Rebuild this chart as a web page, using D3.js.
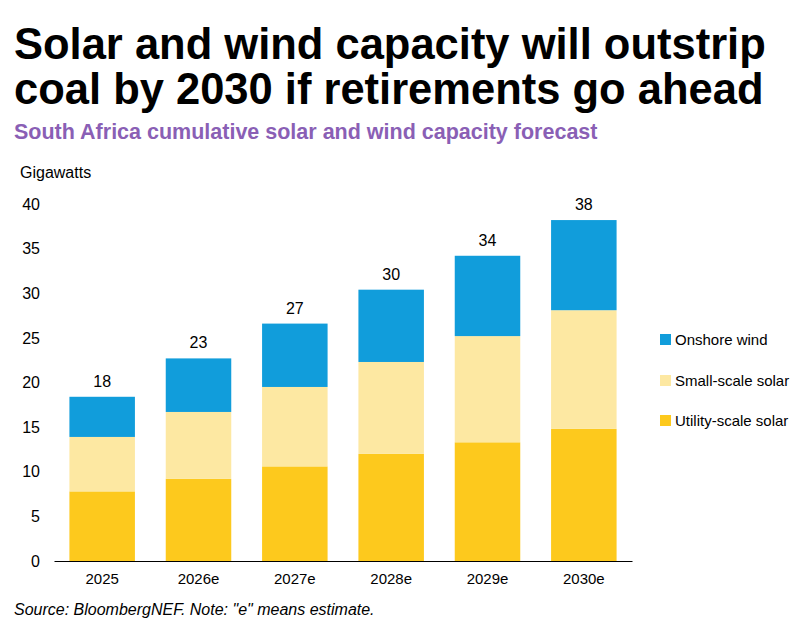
<!DOCTYPE html>
<html><head><meta charset="utf-8">
<script src="https://cdn.jsdelivr.net/npm/d3@7"></script>
<style>body{margin:0;background:#fff;font-family:Arial,"Liberation Sans",sans-serif}</style>
</head><body><div id="chart"></div>
<script>
// values in gigawatts
var years = ["2025", "2026e", "2027e", "2028e", "2029e", "2030e"];
var utility = [7.8, 9.2, 10.6, 12.0, 13.3, 14.8];
var small = [6.1, 7.5, 8.9, 10.3, 11.9, 13.3];
var wind = [4.5, 6.0, 7.1, 8.1, 9.0, 10.1];
var totals = ["18", "23", "27", "30", "34", "38"];
var seriesNames = ["Utility-scale solar", "Small-scale solar", "Onshore wind"];
var colors = ["#fdc91d", "#fde8a2", "#119ddb"];

var svg = d3.select("#chart").append("svg").attr("width", 810).attr("height", 625);

svg.append("text").attr("x", 14).attr("y", 59).attr("font-size", 43.5).attr("font-weight", "bold")
  .text("Solar and wind capacity will outstrip");
svg.append("text").attr("x", 14).attr("y", 104).attr("font-size", 43.5).attr("font-weight", "bold")
  .text("coal by 2030 if retirements go ahead");
svg.append("text").attr("x", 14).attr("y", 139).attr("font-size", 21.5).attr("font-weight", "bold")
  .attr("fill", "#8a5fb5").text("South Africa cumulative solar and wind capacity forecast");
svg.append("text").attr("x", 20).attr("y", 178).attr("font-size", 16).text("Gigawatts");

var x = d3.scaleBand().domain(years).range([54, 632]).paddingInner(0.32).paddingOuter(0.16);
var y = d3.scaleLinear().domain([0, 40]).range([561, 204]);

var stackData = years.map(function (d, i) { return {year: d, s0: utility[i], s1: small[i], s2: wind[i]}; });
var stack = d3.stack().keys(["s0", "s1", "s2"])(stackData);

svg.append("g").selectAll("g").data(stack).join("g")
  .attr("fill", function (d, i) { return colors[i]; })
  .selectAll("rect").data(function (d) { return d; }).join("rect")
  .attr("x", function (d) { return x(d.data.year); })
  .attr("width", x.bandwidth())
  .attr("y", function (d) { return y(d[1]); })
  .attr("height", function (d) { return y(d[0]) - y(d[1]); });

svg.selectAll(".tot").data(stack[2]).join("text")
  .attr("x", function (d) { return x(d.data.year) + x.bandwidth() / 2; })
  .attr("y", function (d) { return y(d[1]) - 10; })
  .attr("text-anchor", "middle").attr("font-size", 16)
  .text(function (d, i) { return totals[i]; });

var ya = svg.append("g").attr("transform", "translate(54,0)")
  .call(d3.axisLeft(y).tickValues(d3.range(0, 41, 5)).tickSize(0).tickPadding(14));
ya.select(".domain").remove();
ya.selectAll("text").attr("font-size", 16).attr("font-family", "Arial,'Liberation Sans',sans-serif").attr("fill", "#000");

var xa = svg.append("g").attr("transform", "translate(0,561)")
  .call(d3.axisBottom(x).tickSize(0).tickPadding(12));
xa.select(".domain").attr("stroke", "#000");
xa.selectAll("text").attr("font-size", 15).attr("font-family", "Arial,'Liberation Sans',sans-serif").attr("fill", "#000");

var legY = [421, 381, 340];
seriesNames.forEach(function (n, i) {
  svg.append("rect").attr("x", 660).attr("y", legY[i] - 6).attr("width", 11).attr("height", 11).attr("fill", colors[i]);
  svg.append("text").attr("x", 675).attr("y", legY[i] + 5).attr("font-size", 15).text(n);
});

svg.append("text").attr("x", 14).attr("y", 615).attr("font-size", 16).attr("font-style", "italic")
  .text('Source: BloombergNEF. Note: "e" means estimate.');
</script></body></html>
